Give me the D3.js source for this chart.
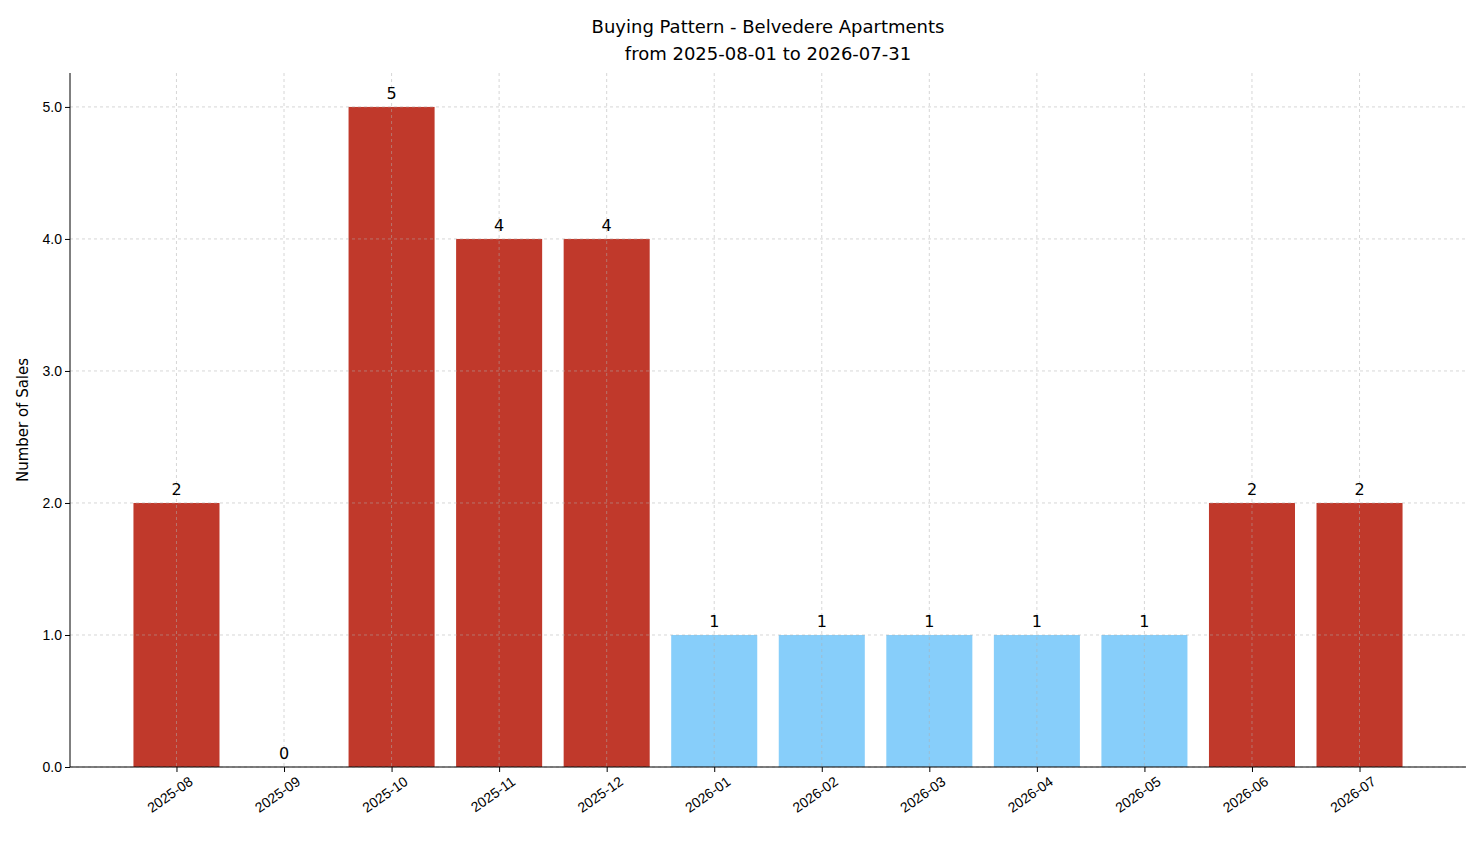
<!DOCTYPE html>
<html><head><meta charset="utf-8">
<script src="https://cdn.jsdelivr.net/npm/d3@7"></script>
<style>body{margin:0;background:#fff;font-family:"DejaVu Sans",sans-serif}</style>
</head><body><div id="chart"></div>
<script>
var months = ["2025-08","2025-09","2025-10","2025-11","2025-12","2026-01","2026-02","2026-03","2026-04","2026-05","2026-06","2026-07"];
var sales = [2,0,5,4,4,1,1,1,1,1,2,2];
var yTicks = [0,1,2,3,4,5];

var margin = {top:73,right:15,bottom:96,left:70};
var width = 1481 - margin.left - margin.right;
var height = 863 - margin.top - margin.bottom;

var svg = d3.select("#chart").append("svg")
  .attr("width",1481).attr("height",863)
  .append("g").attr("transform","translate("+margin.left+","+margin.top+")");

var x = d3.scaleLinear().domain([-0.99,11.99]).range([0,width]);
var y = d3.scaleLinear().domain([0,5.257]).range([height,0]);
var bw = x(0.8)-x(0);

svg.selectAll(".bar").data(sales).enter().append("rect")
  .attr("x",function(d,i){return x(i-0.4);})
  .attr("y",function(d){return y(d);})
  .attr("width",bw)
  .attr("height",function(d){return height-y(d);})
  .attr("fill",function(d){return d>=2?"#c0392b":"#87cefa";});

// grid
svg.selectAll(".hg").data(yTicks).enter().append("line")
  .attr("x1",0).attr("x2",width)
  .attr("y1",function(d){return y(d);}).attr("y2",function(d){return y(d);})
  .attr("stroke","#b0b0b0").attr("stroke-opacity",0.5).attr("stroke-dasharray","3,3");
svg.selectAll(".vg").data(months).enter().append("line")
  .attr("y1",0).attr("y2",height)
  .attr("x1",function(d,i){return x(i);}).attr("x2",function(d,i){return x(i);})
  .attr("stroke","#b0b0b0").attr("stroke-opacity",0.5).attr("stroke-dasharray","3,3");

svg.selectAll(".lbl").data(sales).enter().append("text")
  .attr("x",function(d,i){return x(i);})
  .attr("y",function(d){return y(d)-8;})
  .attr("text-anchor","middle").style("font-size","16px").text(function(d){return d;});

var xa = svg.append("g").attr("transform","translate(0,"+height+")")
  .call(d3.axisBottom(x).tickValues(d3.range(months.length)).tickFormat(function(i){return months[i];}).tickSizeOuter(0).tickSize(5));
xa.selectAll("text").style("font-size","14px").attr("text-anchor","end")
  .attr("dx","0.3em").attr("dy","1.1em").attr("transform","rotate(-35)");
xa.select(".domain").attr("d","M0,0H"+width);

var ya = svg.append("g").call(d3.axisLeft(y).tickValues(yTicks).tickSizeOuter(0).tickSize(5));
ya.selectAll("text").style("font-size","14px");
ya.select(".domain").attr("d","M0,0V"+height);

svg.append("text").attr("transform","rotate(-90)")
  .attr("x",-height/2).attr("y",-42).attr("text-anchor","middle")
  .style("font-size","15px").text("Number of Sales");

svg.append("text").attr("x",width/2).attr("y",-40).attr("text-anchor","middle")
  .style("font-size","18px").text("Buying Pattern - Belvedere Apartments");
svg.append("text").attr("x",width/2).attr("y",-13).attr("text-anchor","middle")
  .style("font-size","18px").text("from 2025-08-01 to 2026-07-31");
</script></body></html>
